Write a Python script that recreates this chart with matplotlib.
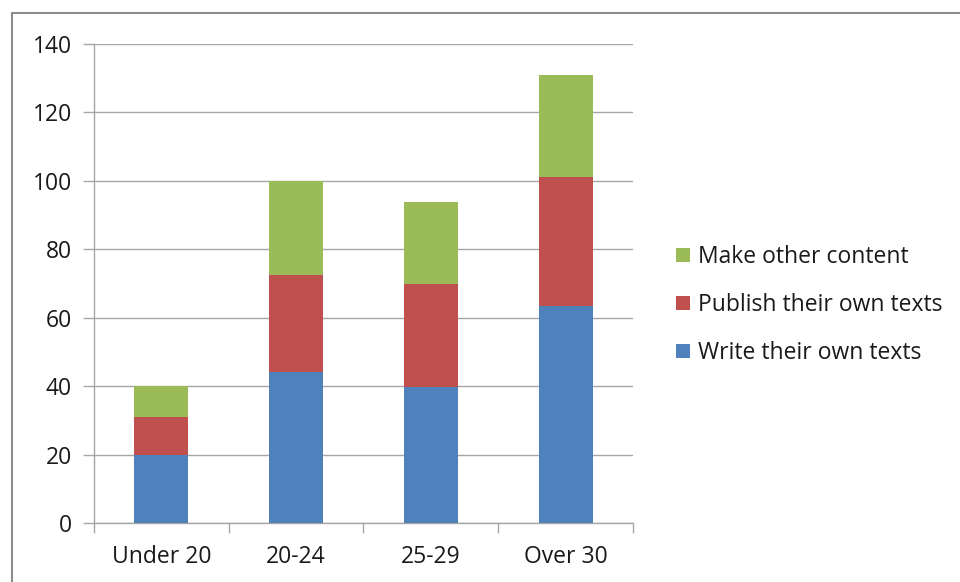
import matplotlib.pyplot as plt
import matplotlib.patches as mpatches
import numpy as np

plt.rcParams['font.family'] = ['Open Sans', 'DejaVu Sans']

categories = ['Under 20', '20-24', '25-29', 'Over 30']
write_own = [20, 44.2, 39.7, 63.3]
publish_own = [11.1, 28.4, 30.3, 37.7]
make_other = [8.9, 27.4, 23.8, 29.8]

blue = '#4F81BD'
red = '#C0504D'
green = '#9BBB59'
grid_col = '#A6A6A6'
fs = 16.5

fig = plt.figure(figsize=(9.6, 5.82), dpi=100)
ax = fig.add_axes([94/960, 1 - 523/582, (633 - 94)/960, (523 - 44)/582])

x = np.arange(len(categories))
w = 0.4
b1 = ax.bar(x, write_own, w, color=blue, label='Write their own texts', zorder=3)
bottom2 = np.array(write_own)
b2 = ax.bar(x, publish_own, w, bottom=bottom2, color=red,
            label='Publish their own texts', zorder=3)
bottom3 = bottom2 + np.array(publish_own)
b3 = ax.bar(x, make_other, w, bottom=bottom3, color=green,
            label='Make other content', zorder=3)

ax.set_xlim(-0.5, len(categories) - 0.5)
ax.set_ylim(0, 140)
ax.set_yticks(range(0, 141, 20))
ax.set_xticks(x)
ax.set_xticklabels(categories)
ax.set_xticks(np.arange(-0.5, len(categories)), minor=True)
ax.tick_params(axis='x', which='major', length=0, pad=16, labelsize=fs, labelcolor='#1a1a1a')
ax.tick_params(axis='x', which='minor', length=7, color=grid_col, width=1)
ax.tick_params(axis='y', length=8, color=grid_col, width=1, pad=8, labelsize=fs, labelcolor='#1a1a1a')

ax.yaxis.grid(True, color=grid_col, linewidth=1, zorder=0)
for s in ['top', 'right']:
    ax.spines[s].set_visible(False)
for s in ['left', 'bottom']:
    ax.spines[s].set_color(grid_col)
    ax.spines[s].set_linewidth(1)

fig.legend(handles=[b3, b2, b1], loc='center left',
           bbox_to_anchor=(655/960, 1 - 305/582), frameon=False,
           fontsize=fs, handlelength=0.62, handleheight=0.6,
           handletextpad=0.35, labelspacing=1.05, labelcolor='#1a1a1a')

# outer chart border
fig.add_artist(mpatches.Rectangle((12/960, -0.1), 1.2, 1.1 - 13/582,
                                  transform=fig.transFigure, fill=False,
                                  edgecolor='#8C8C8C', linewidth=1.5, clip_on=False))

fig.savefig('out.png', dpi=100)
